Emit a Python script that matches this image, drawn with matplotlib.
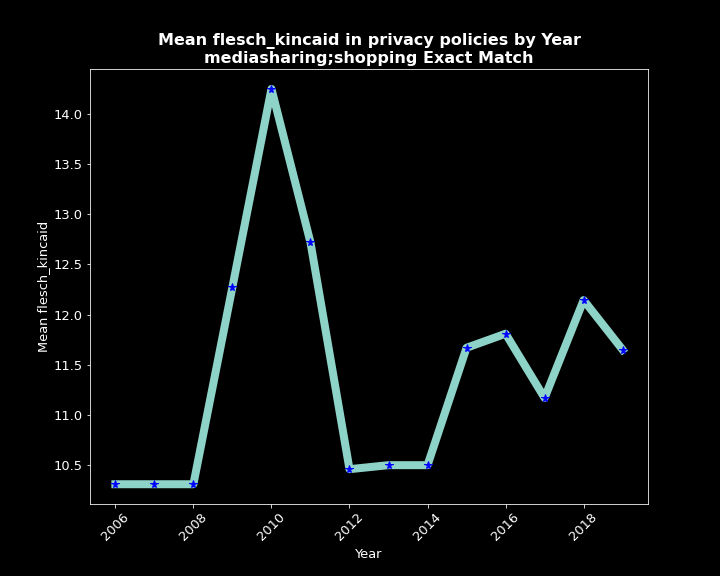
import numpy as np
from matplotlib import pyplot as plt

years = [2006, 2007, 2008, 2009, 2010, 2011, 2012, 2013, 2014, 2015, 2016, 2017, 2018, 2019]
mean_fk = [10.31, 10.31, 10.31, 12.275, 14.25, 12.72, 10.46, 10.50, 10.50, 11.67, 11.81, 11.17, 12.145, 11.65]

plt.style.use('dark_background')
fig, ax = plt.subplots(figsize=(10, 8), dpi=72)
fig.subplots_adjust(left=0.125, right=0.9, top=0.88, bottom=0.125)

ax.plot(years, mean_fk, lw=8, color='#8dd3c7')
ax.plot(years, mean_fk, ls='none', marker='*', color='blue', markersize=8)

ax.set_title('Mean flesch_kincaid in privacy policies by Year\nmediasharing;shopping Exact Match',
             fontsize=16, fontweight='bold')
ax.set_xlabel('Year', fontsize=13)
ax.set_ylabel('Mean flesch_kincaid', fontsize=13)
ax.set_xticks(np.arange(2006, 2020, 2))
ax.tick_params(axis='x', labelrotation=45, labelsize=13)
ax.tick_params(axis='y', labelsize=13)

fig.savefig('out.png')
